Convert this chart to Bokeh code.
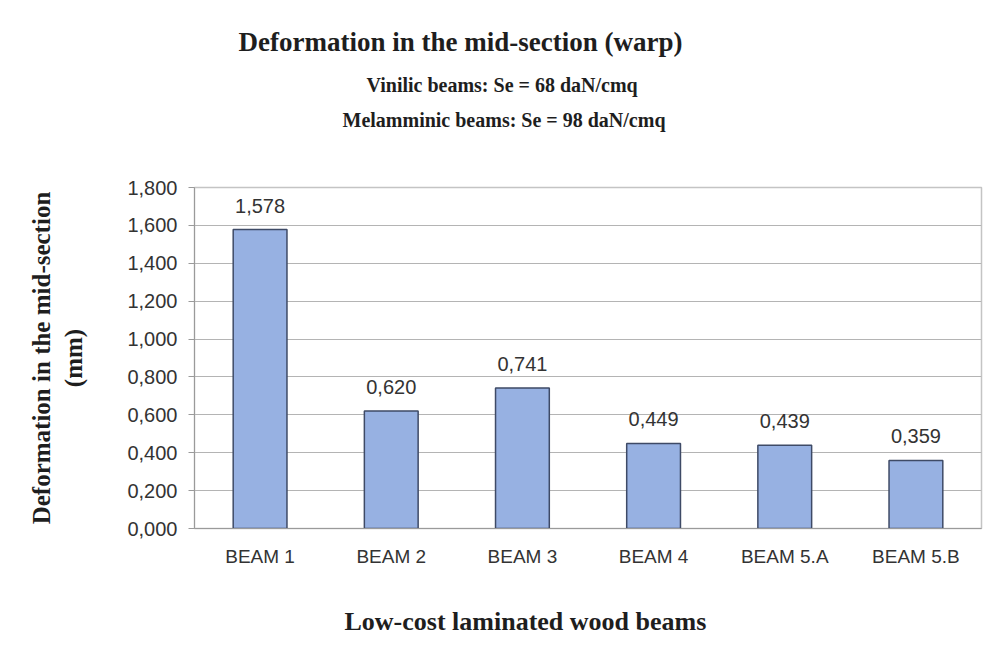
from bokeh.plotting import figure
from bokeh.models import (ColumnDataSource, FactorRange, Range1d, FixedTicker,
                          CustomJSTickFormatter, LabelSet, Title)
from bokeh.core.properties import value
from bokeh.embed import file_html
from bokeh.resources import INLINE

# ---- data ----
beams = ["BEAM 1", "BEAM 2", "BEAM 3", "BEAM 4", "BEAM 5.A", "BEAM 5.B"]
deformation = [1.578, 0.620, 0.741, 0.449, 0.439, 0.359]
y_ticks = [0.0, 0.2, 0.4, 0.6, 0.8, 1.0, 1.2, 1.4, 1.6, 1.8]

title_text = "Deformation in the mid-section (warp)"
sub1_text = "Vinilic beams: Se = 68 daN/cmq"
sub2_text = "Melamminic beams: Se = 98 daN/cmq"
x_title = "Low-cost laminated wood beams"
y_title = "Deformation in the mid-section\n(mm)"

labels = [f"{v:.3f}".replace(".", ",") for v in deformation]
src = ColumnDataSource(dict(x=beams, top=deformation, lab=labels))

SERIF = "Liberation Serif"
SANS = "Liberation Sans"
dark = "#1e1e1e"

p = figure(x_range=FactorRange(*beams), y_range=Range1d(0, 1.8),
           width=990, height=662, frame_width=787, frame_height=341,
           min_border_left=194, min_border_right=9, min_border_top=187,
           min_border_bottom=134, output_backend="svg", toolbar_location=None)

p.vbar(x="x", top="top", width=0.41, source=src, fill_color="#97B1E2",
       line_color="#3E4A66", line_width=1.5)

p.add_layout(LabelSet(x="x", y="top", text="lab", source=src, text_align="center",
                      text_baseline="bottom", y_offset=17, text_font=value(SANS),
                      text_font_size="20px", text_color="#333333"))

# axes
p.yaxis.ticker = FixedTicker(ticks=y_ticks)
p.yaxis.formatter = CustomJSTickFormatter(code="return tick.toFixed(3).replace('.', ',');")
p.yaxis.major_label_text_font = SANS
p.yaxis.major_label_text_font_size = "20px"
p.yaxis.major_label_text_color = "#333333"
p.yaxis.major_tick_out = 6
p.yaxis.major_tick_in = 0
p.yaxis.minor_tick_line_color = None
p.yaxis.axis_line_color = "#9a9a9a"
p.yaxis.major_tick_line_color = "#9a9a9a"
p.yaxis.major_label_standoff = 11
p.yaxis.axis_label = y_title
p.yaxis.axis_label_text_font = SERIF
p.yaxis.axis_label_text_font_size = "25px"
p.yaxis.axis_label_text_font_style = "bold"
p.yaxis.axis_label_text_color = dark
p.yaxis.axis_label_standoff = 37

p.xaxis.major_label_text_font = SANS
p.xaxis.major_label_text_font_size = "19px"
p.xaxis.major_label_text_color = "#333333"
p.xaxis.major_tick_line_color = None
p.xaxis.major_tick_out = 0
p.xaxis.axis_line_color = "#9a9a9a"
p.xaxis.major_label_standoff = 17

p.xgrid.grid_line_color = None
p.ygrid.grid_line_color = "#b4b4b4"
p.ygrid.ticker = FixedTicker(ticks=y_ticks)
p.outline_line_color = "#c4c4c4"
p.outline_line_width = 1.5
p.background_fill_color = "white"
p.border_fill_color = "white"

def ttl(text, size, offset, standoff, align="left"):
    return Title(text=text, align=align, offset=offset, standoff=standoff,
                 vertical_align="middle", text_font=SERIF, text_font_size=size,
                 text_font_style="bold", text_color=dark)

# above: stacked from the frame outward
p.add_layout(ttl(" ", "1px", 0, 48), "above")
p.add_layout(ttl(sub2_text, "20px", 148, 10), "above")
p.add_layout(ttl(sub1_text, "20px", 172, 12), "above")
p.add_layout(ttl(title_text, "27px", 44, 18), "above")

# below: after the x axis
p.add_layout(ttl(" ", "1px", 0, 33), "below")
p.add_layout(ttl(x_title, "26px", 150, 0), "below")

open("out.html", "w").write(file_html(p, INLINE))
